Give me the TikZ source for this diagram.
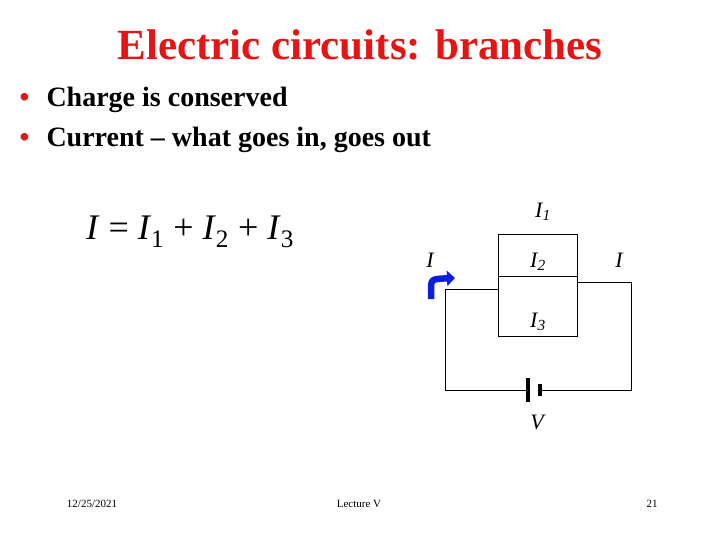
\documentclass[tikz,border=0pt]{standalone}
\usepackage{fontspec}
\setmainfont{Liberation Serif}
\usetikzlibrary{arrows.meta}
\definecolor{titlered}{RGB}{230,20,20}
\definecolor{arrblue}{RGB}{10,30,220}
\begin{document}
\begin{tikzpicture}[x=1pt,y=-1pt,
  wire/.style={draw=black,line width=0.8pt},
  lbl/.style={font=\fontsize{22}{24}\selectfont\itshape},
  foot/.style={font=\fontsize{11}{13}\selectfont},
  bul/.style={font=\fontsize{28}{30}\selectfont\bfseries,anchor=west}]
\useasboundingbox (0,0) rectangle (720,540);
\node[text=titlered,font=\fontsize{43}{46}\selectfont\bfseries] (title) at (360,45) {Electric circuits: branches};
\node[bul,text=titlered] (b1) at (16,100) {•};
\node[bul] (t1) at (43,100) {Charge is conserved};
\node[bul,text=titlered] (b2) at (16,140) {•};
\node[bul] (t2) at (43,140) {Current – what goes in, goes out};
\node[font=\fontsize{36}{38}\selectfont] (eq) at (190,232) {\textit{I} = \textit{I}\textsubscript{1} + \textit{I}\textsubscript{2} + \textit{I}\textsubscript{3}};
% circuit
\coordinate (bTL) at (498,234); \coordinate (bBR) at (577,336);
\draw[wire] (bTL) rectangle (bBR);
\coordinate (mL) at (498,276); \coordinate (mR) at (577,276);
\draw[wire] (mL) -- (mR);
\coordinate (lIn) at (498,289); \coordinate (lTop) at (445,289); \coordinate (lBot) at (445,390);
\coordinate (rOut) at (577,282); \coordinate (rTop) at (631,282); \coordinate (rBot) at (631,390);
\coordinate (plA) at (528,390); \coordinate (plB) at (540,390);
\draw[wire] (lIn) -- (lTop) -- (lBot) -- (plA);
\draw[wire] (rOut) -- (rTop) -- (rBot) -- (plB);
\draw[line width=3.5pt] (528,378) -- (528,402);
\draw[line width=3.5pt] (540,384) -- (540,396);
\coordinate (aS) at (431,299); \coordinate (aE) at (455,278);
\draw[arrblue,line width=6.5pt,-{Triangle[length=8pt,width=15pt]}] (aS) -- (431,291) .. controls (431,279) .. (aE);
\node[lbl] (I1) at (543,212) {I\textsubscript{1}};
\node[lbl] (I2) at (538,262) {I\textsubscript{2}};
\node[lbl] (I3) at (538,322) {I\textsubscript{3}};
\node[lbl] (Il) at (430,260) {I};
\node[lbl] (Ir) at (619,260) {I};
\node[lbl] (V) at (537,422) {V};
\node[foot] (d) at (92,504) {12/25/2021};
\node[foot] (lec) at (359,504) {Lecture V};
\node[foot] (n) at (652,504) {21};
\end{tikzpicture}
\end{document}
